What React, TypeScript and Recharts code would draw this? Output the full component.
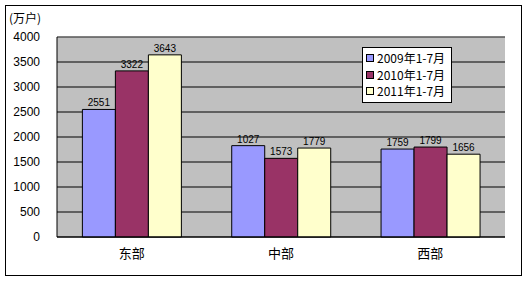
import React from "react";
import {
  BarChart, Bar, XAxis, YAxis, CartesianGrid, Legend, LabelList, ReferenceLine,
} from "recharts";

const categories = ["东部", "中部", "西部"];
const series2009 = [2551, 1827, 1759];
const series2010 = [3322, 1573, 1799];
const series2011 = [3643, 1779, 1656];
const labels2009 = ["2551", "1027", "1759"];
const labels2010 = ["3322", "1573", "1799"];
const labels2011 = ["3643", "1779", "1656"];
const seriesNames = ["2009年1-7月", "2010年1-7月", "2011年1-7月"];
const seriesColors = ["#9999FF", "#993366", "#FFFFCC"];
const yTicks = [0, 500, 1000, 1500, 2000, 2500, 3000, 3500, 4000];

const data = categories.map((c, i) => ({
  name: c,
  a: series2009[i],
  b: series2010[i],
  c: series2011[i],
  la: labels2009[i],
  lb: labels2010[i],
  lc: labels2011[i],
}));

const FONT = "'Liberation Sans', Arial, sans-serif";
const CJK = "'Noto Sans CJK SC', 'Liberation Sans', sans-serif";

const LegendBox = (props: any) => {
  const items = props.payload || [];
  return (
    <div
      style={{
        border: "1px solid #000",
        background: "#fff",
        width: 90,
        padding: "2px 0 2px 3px",
        boxSizing: "border-box",
        fontFamily: CJK,
        fontSize: 12,
        color: "#000",
      }}
    >
      {items.map((it: any, i: number) => (
        <div key={i} style={{ display: "flex", alignItems: "center", height: 16.5 }}>
          <span
            style={{
              display: "inline-block",
              width: 6,
              height: 6,
              border: "1px solid #000",
              background: it.color,
              marginRight: 3,
            }}
          />
          <span style={{ lineHeight: "16px" }}>{it.value}</span>
        </div>
      ))}
    </div>
  );
};

export default function App() {
  return (
    <div style={{ position: "absolute", left: 0, top: 0, width: 528, height: 281, background: "#fff" }}>
      <div
        style={{
          position: "absolute",
          left: 5,
          top: 5,
          width: 517,
          height: 271,
          border: "1px solid #000",
          boxSizing: "border-box",
        }}
      />
      <div
        style={{
          position: "absolute",
          left: 9,
          top: 10,
          fontFamily: CJK,
          fontSize: 12,
          lineHeight: "16px",
          color: "#000",
        }}
      >
        (万户)
      </div>
      <BarChart
        width={528}
        height={281}
        data={data}
        margin={{ top: 37, right: 23, bottom: 14, left: 0 }}
        barCategoryGap="17%"
        barGap={0}
        style={{ position: "absolute", left: 0, top: 0 }}
      >
        <CartesianGrid fill="#C0C0C0" stroke="#000" vertical={false} />
        <XAxis
          dataKey="name"
          height={30}
          tickLine={false}
          axisLine={{ stroke: "#000" }}
          tickSize={0}
          tickMargin={12}
          tick={{ fill: "#000", fontSize: 13, fontFamily: CJK }}
        />
        <YAxis
          width={57}
          domain={[0, 4000]}
          ticks={yTicks}
          interval={0}
          tickLine={false}
          axisLine={{ stroke: "#000" }}
          tickSize={0}
          tickMargin={17}
          tick={{ fill: "#000", fontSize: 12, fontFamily: FONT }}
        />
        <YAxis
          yAxisId="r"
          orientation="right"
          width={0}
          tick={false}
          tickLine={false}
          axisLine={{ stroke: "#808080" }}
          domain={[0, 4000]}
        />
        <ReferenceLine y={4000} stroke="#808080" />
        <Legend
          layout="vertical"
          align="center"
          verticalAlign="middle"
          content={<LegendBox />}
          wrapperStyle={{ position: "absolute", left: 362, top: 47, width: 90 }}
        />
        <Bar dataKey="a" name={seriesNames[0]} fill={seriesColors[0]} stroke="#000" strokeWidth={1} isAnimationActive={false}>
          <LabelList dataKey="la" position="top" offset={3} style={{ fill: "#000", fontSize: 10, fontFamily: FONT }} />
        </Bar>
        <Bar dataKey="b" name={seriesNames[1]} fill={seriesColors[1]} stroke="#000" strokeWidth={1} isAnimationActive={false}>
          <LabelList dataKey="lb" position="top" offset={3} style={{ fill: "#000", fontSize: 10, fontFamily: FONT }} />
        </Bar>
        <Bar dataKey="c" name={seriesNames[2]} fill={seriesColors[2]} stroke="#000" strokeWidth={1} isAnimationActive={false}>
          <LabelList dataKey="lc" position="top" offset={3} style={{ fill: "#000", fontSize: 10, fontFamily: FONT }} />
        </Bar>
      </BarChart>
    </div>
  );
}
